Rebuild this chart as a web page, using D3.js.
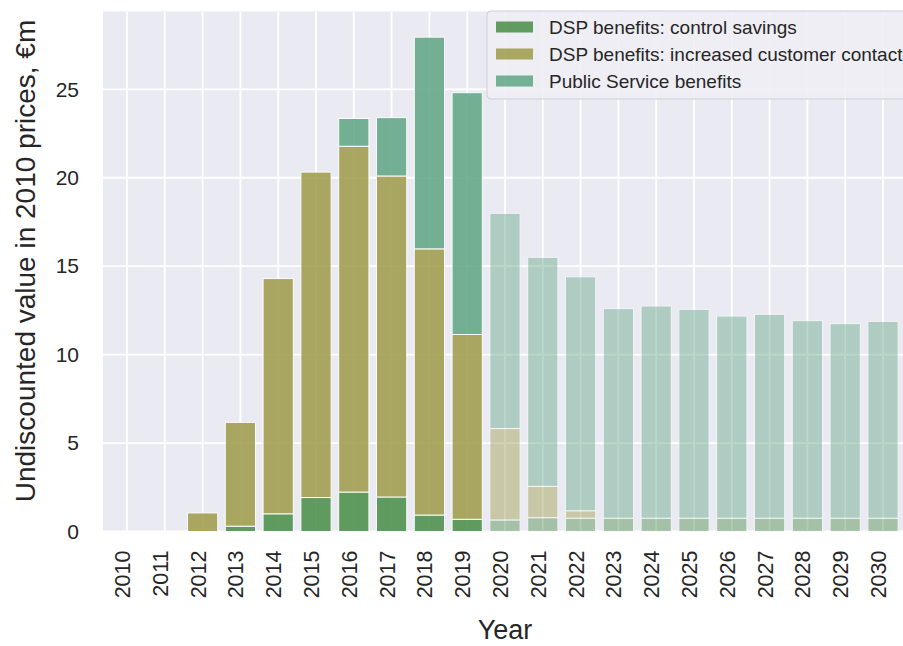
<!DOCTYPE html>
<html>
<head>
<meta charset="utf-8">
<script src="https://cdn.jsdelivr.net/npm/d3@7"></script>
<style>
  html, body { margin: 0; padding: 0; background: #ffffff; }
  svg { display: block; font-family: "Liberation Sans", Arial, sans-serif; }
</style>
</head>
<body>
<svg id="chart" width="903" height="646"></svg>
<script>
// Yearly benefits, € million in 2010 prices
const years = [2010, 2011, 2012, 2013, 2014, 2015, 2016, 2017, 2018, 2019, 2020,
               2021, 2022, 2023, 2024, 2025, 2026, 2027, 2028, 2029, 2030];
const controlSavings = [0, 0, 0, 0.3, 1.0, 1.92, 2.23, 1.95, 0.93, 0.69, 0.65,
                        0.78, 0.75, 0.75, 0.75, 0.75, 0.75, 0.75, 0.75, 0.75, 0.75];
const customerContact = [0, 0, 1.05, 5.87, 13.3, 18.4, 19.55, 18.15, 15.05, 10.45, 5.17,
                         1.77, 0.42, 0, 0, 0, 0, 0, 0, 0, 0];
const publicService = [0, 0, 0, 0, 0, 0, 1.57, 3.3, 11.97, 13.67, 12.17,
                       12.95, 13.23, 11.85, 12.0, 11.81, 11.43, 11.53, 11.17, 11.0, 11.13];
// Years from here on are projections and drawn pale
const firstProjectedYear = 2020;

const seriesNames = ["DSP benefits: control savings",
                     "DSP benefits: increased customer contact",
                     "Public Service benefits"];
const seriesColors = ["#4c8f4b", "#9f9d4c", "#63a886"];
const yTicks = [0, 5, 10, 15, 20, 25];
const yLabel = "Undiscounted value in 2010 prices, €m";
const xLabel = "Year";

const svg = d3.select("#chart");
const plot = { left: 103, right: 907, top: 11.5, bottom: 531.5 };
const ink = "#262626";
const plotBg = "#eaeaf2";

const x = d3.scaleBand()
  .domain(years)
  .range([plot.left, plot.right])
  .paddingInner(0.2)
  .paddingOuter(0.235);

const y = d3.scaleLinear()
  .domain([0, 29.4])
  .range([plot.bottom, plot.top]);

// Plot background
svg.append("rect")
  .attr("x", plot.left).attr("y", plot.top)
  .attr("width", plot.right - plot.left)
  .attr("height", plot.bottom - plot.top)
  .attr("fill", plotBg);

// Grid
const grid = svg.append("g").attr("stroke", "#ffffff").attr("stroke-width", 1.8);
grid.selectAll("line.h").data(yTicks).join("line")
  .attr("class", "h")
  .attr("x1", plot.left).attr("x2", plot.right)
  .attr("y1", d => y(d)).attr("y2", d => y(d));
grid.selectAll("line.v").data(years).join("line")
  .attr("class", "v")
  .attr("y1", plot.top).attr("y2", plot.bottom)
  .attr("x1", d => x(d) + x.bandwidth() / 2)
  .attr("x2", d => x(d) + x.bandwidth() / 2);

// Stacked bars
const rows = years.map((yr, i) => ({
  year: yr,
  control: controlSavings[i],
  contact: customerContact[i],
  publicSvc: publicService[i]
}));
const keys = ["control", "contact", "publicSvc"];
const stacked = d3.stack().keys(keys)(rows);

const bars = svg.append("g");
stacked.forEach((layer, k) => {
  bars.append("g")
    .attr("fill", seriesColors[k])
    .selectAll("rect")
    .data(layer.filter(d => d[1] - d[0] > 0))
    .join("rect")
    .attr("x", d => x(d.data.year))
    .attr("width", x.bandwidth())
    .attr("y", d => y(d[1]))
    .attr("height", d => y(d[0]) - y(d[1]))
    .attr("stroke", "#ffffff")
    .attr("stroke-width", 1)
    .attr("opacity", d => d.data.year >= firstProjectedYear ? 0.44 : 0.88);
});

// Y axis tick labels
const yAxis = d3.axisLeft(y).tickValues(yTicks).tickSize(0).tickPadding(0);
const yg = svg.append("g")
  .attr("transform", `translate(${plot.left - 24},0)`)
  .call(yAxis);
yg.select(".domain").remove();
yg.selectAll("text")
  .attr("font-size", 21)
  .attr("font-family", "Liberation Sans, Arial, sans-serif")
  .attr("fill", ink);

// X axis tick labels, rotated
const xAxis = d3.axisBottom(x).tickSize(0).tickPadding(0);
const xg = svg.append("g")
  .attr("transform", `translate(0,${plot.bottom})`)
  .call(xAxis);
xg.select(".domain").remove();
xg.selectAll("text")
  .attr("font-size", 21.5)
  .attr("font-family", "Liberation Sans, Arial, sans-serif")
  .attr("fill", ink)
  .attr("text-anchor", "end")
  .attr("dy", null)
  .attr("y", 0)
  .attr("transform", "translate(3,19) rotate(-90)");

// Axis titles
svg.append("text")
  .attr("transform", "translate(35,261) rotate(-90)")
  .attr("text-anchor", "middle")
  .attr("font-size", 28)
  .attr("fill", ink)
  .text(yLabel);

svg.append("text")
  .attr("x", (plot.left + plot.right) / 2)
  .attr("y", 639)
  .attr("text-anchor", "middle")
  .attr("font-size", 27)
  .attr("fill", ink)
  .text(xLabel);

// Legend
const legend = svg.append("g").attr("transform", "translate(487,11)");
legend.append("rect")
  .attr("x", 0).attr("y", 0)
  .attr("width", 440).attr("height", 88)
  .attr("rx", 4)
  .attr("fill", "#eeeef4")
  .attr("fill-opacity", 0.9)
  .attr("stroke", "#cfcfd6")
  .attr("stroke-width", 1);
seriesNames.forEach((name, i) => {
  const cy = 16 + i * 27;
  legend.append("rect")
    .attr("x", 9).attr("y", cy - 5.5)
    .attr("width", 37).attr("height", 11)
    .attr("fill", seriesColors[i])
    .attr("opacity", 0.88);
  legend.append("text")
    .attr("x", 62).attr("y", cy + 6.5)
    .attr("font-size", 19)
    .attr("fill", ink)
    .text(name);
});
</script>
</body>
</html>
